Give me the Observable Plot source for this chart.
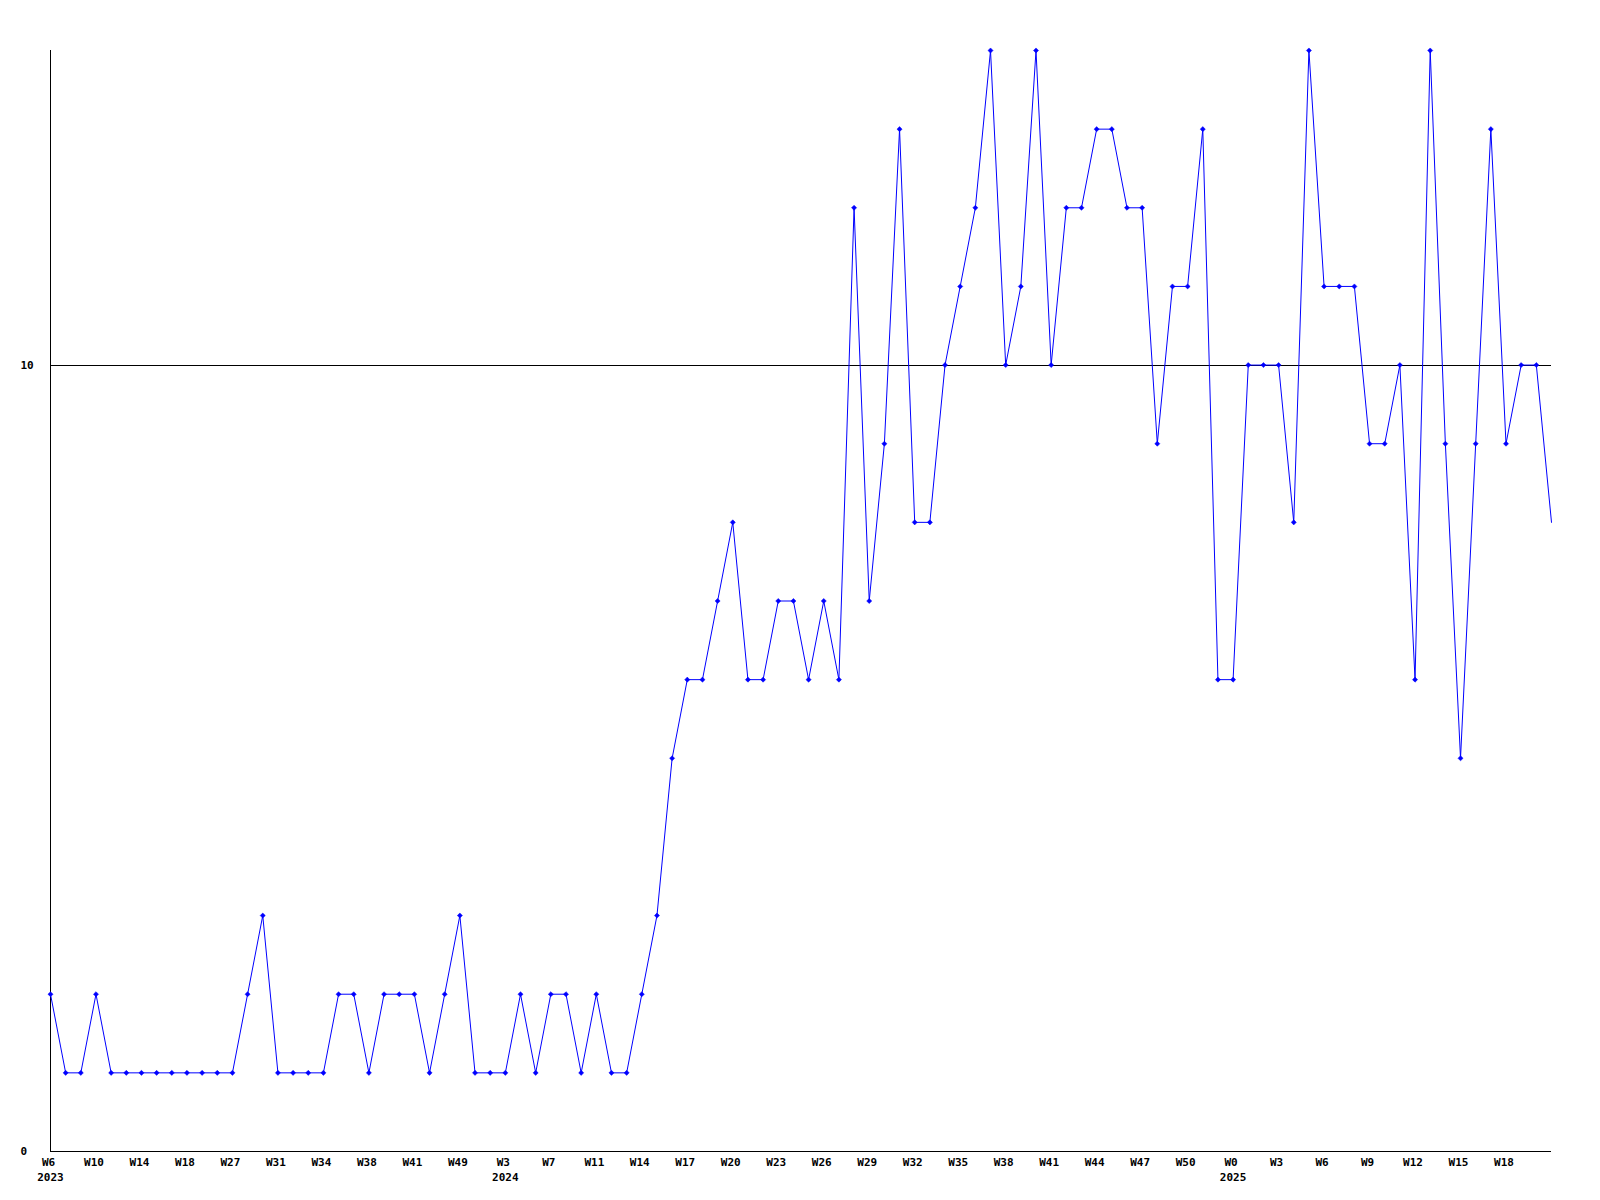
<!DOCTYPE html>
<html>
<head>
<meta charset="utf-8">
<script src="https://cdn.jsdelivr.net/npm/d3@7"></script>
<script src="https://cdn.jsdelivr.net/npm/@observablehq/plot@0.6"></script>
<style>
  html, body { margin: 0; padding: 0; background: #fff; }
  #chart svg { display: block; }
</style>
</head>
<body>
<div id="chart"></div>
<script>
// Weekly values, one per point (evenly spaced)
const values = [
  2,1,1,2,1, 1,1,1,1,1, 1,1,1,2,3, 1,1,1,1,2,
  2,1,2,2,2, 1,2,3,1,1, 1,2,1,2,2, 1,2,1,1,2,
  3,5,6,6,7, 8,6,6,7,7, 6,7,6,12,7, 9,13,8,8,10,
  11,12,14,10,11, 14,10,12,12,13, 13,12,12,9,11, 11,13,6,6,10,
  10,10,8,14,11, 11,11,9,9,10, 6,14,9,5,9, 13,9,10,10,8
];
// Tick labels, shown on every third point
const weekLabels = [
  "W6","W10","W14","W18","W27","W31","W34","W38","W41","W49",
  "W3","W7","W11","W14","W17","W20","W23","W26","W29","W32",
  "W35","W38","W41","W44","W47","W50","W0","W3","W6","W9",
  "W12","W15","W18"
];
const labelStep = 3;
// Year labels: which tick label carries a year underneath
const yearLabels = ["2023", "2024", "2025"];
const yearAtLabel = [0, 10, 26];
const yTicks = [0, 10];

const data = values.map((v, i) => ({i, v}));
const ticks = weekLabels.map((t, k) => ({i: k * labelStep, t}));
const years = yearLabels.map((y, k) => ({i: yearAtLabel[k] * labelStep, y}));

const font = "'DejaVu Sans Mono', 'Liberation Mono', monospace";
const blue = "#0000ff";

const chart = Plot.plot({
  width: 1600,
  height: 1200,
  marginLeft: 50,
  marginRight: 49,
  marginTop: 50,
  marginBottom: 49,
  style: {fontFamily: font, fontSize: "11px", background: "#fff"},
  x: {type: "linear", domain: [0, values.length - 1], axis: null},
  y: {domain: [0, 14], axis: null},
  marks: [
    Plot.ruleY([10], {stroke: "#000", strokeWidth: 1, shapeRendering: "crispEdges"}),
    Plot.ruleY([0], {stroke: "#000", strokeWidth: 1, shapeRendering: "crispEdges"}),
    Plot.ruleX([0], {stroke: "#000", strokeWidth: 1, shapeRendering: "crispEdges"}),
    Plot.line(data, {x: "i", y: "v", stroke: blue, strokeWidth: 1}),
    Plot.dot(data, {filter: (d) => d.i < values.length - 1, x: "i", y: "v", symbol: "diamond2", r: 2.3, fill: blue, stroke: blue, strokeWidth: 0.5}),
    Plot.text(ticks, {x: "i", y: () => 0, text: "t", dy: 11, dx: -2, fontWeight: "bold", fontSize: 11, fill: "#000", textAnchor: "middle"}),
    Plot.text(years, {x: "i", y: () => 0, text: "y", dy: 26, fontWeight: "bold", fontSize: 11, fill: "#000", textAnchor: "middle"}),
    Plot.text(yTicks, {y: (d) => d, text: (d) => String(d), frameAnchor: "left", dx: -30, textAnchor: "start", fontWeight: "bold", fontSize: 11, fill: "#000"})
  ]
});
document.getElementById("chart").appendChild(chart);
</script>
</body>
</html>
